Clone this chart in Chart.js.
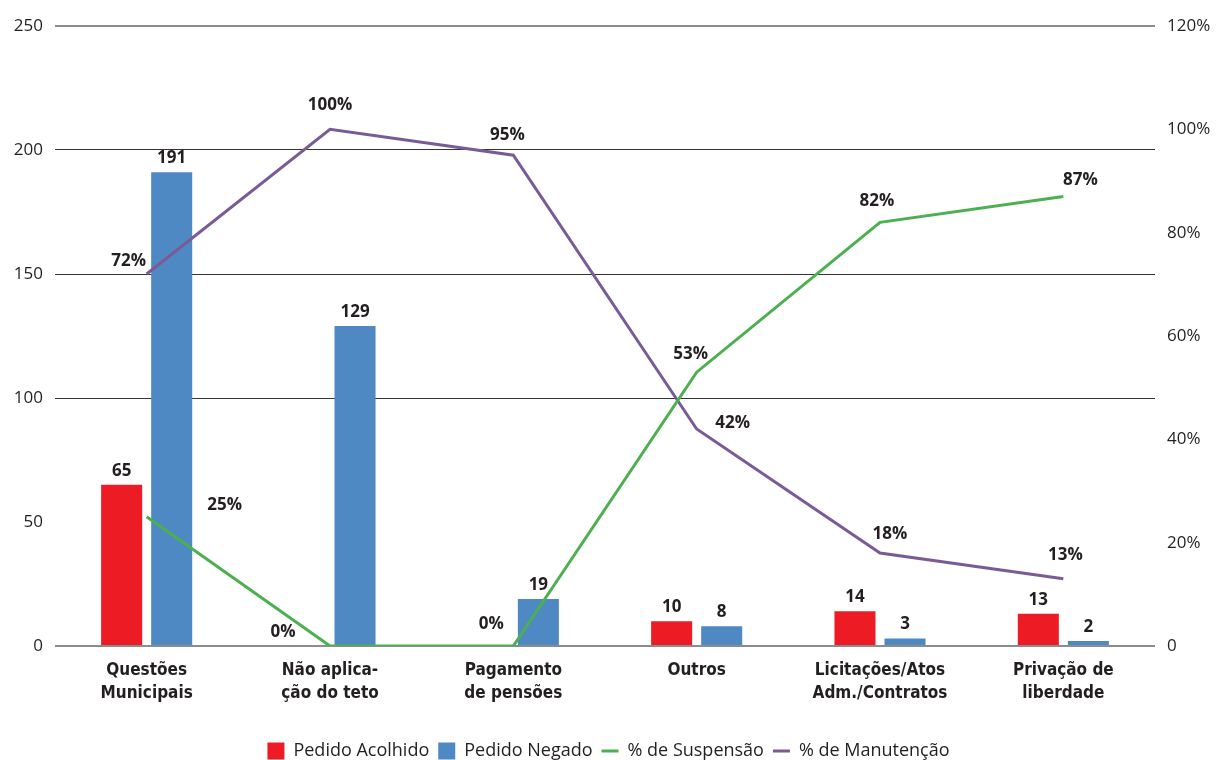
<!DOCTYPE html>
<html>
<head>
<meta charset="utf-8">
<script src="https://cdn.jsdelivr.net/npm/chart.js@4/dist/chart.umd.min.js"></script>
<style>
  html, body { margin: 0; padding: 0; background: #fff; }
  #wrap { width: 1217px; height: 760px; }
</style>
</head>
<body>
<div id="wrap"><canvas id="myChart" width="1217" height="760"></canvas></div>
<script>
// categories and values
const categories = [
    ['Questões', 'Municipais'],
    ['Não aplica-', 'ção do teto'],
    ['Pagamento', 'de pensões'],
    'Outros',
    ['Licitações/Atos', 'Adm./Contratos'],
    ['Privação de', 'liberdade']
];
const pedidoAcolhido = [65, 0, 0, 10, 14, 13];
const pedidoNegado = [191, 129, 19, 8, 3, 2];
const pctSuspensao = [25, 0, 0, 53, 82, 87];
const pctManutencao = [72, 100, 95, 42, 18, 13];
const leftTicks = [0, 50, 100, 150, 200, 250];
const rightTicks = [0, 20, 40, 60, 80, 100, 120];

// where each % label sits relative to its point (style only)
const suspensaoOffsets = [[78, -12], [-47, -14], [-22, -22], [-6, -18], [-3, -21], [17, -16]];
const manutencaoOffsets = [[-18, -13], [0, -24], [-6, -20], [36, -6], [10, -19], [2, -24]];

const labelFont = 'bold 17px "Open Sans", "Noto Sans", sans-serif';
const bodyFont = '"Open Sans", "Noto Sans", sans-serif';

const valueLabels = {
    id: 'valueLabels',
    afterDatasetsDraw(chart) {
        const ctx = chart.ctx;
        ctx.save();
        ctx.font = labelFont;
        ctx.fillStyle = '#231f20';
        ctx.textAlign = 'center';
        ctx.textBaseline = 'middle';
        chart.data.datasets.forEach((ds, i) => {
            const meta = chart.getDatasetMeta(i);
            meta.data.forEach((el, j) => {
                const v = ds.data[j];
                if (ds.type === 'line') {
                    const off = ds.labelOffsets[j];
                    ctx.fillText(v + '%', el.x + off[0], el.y + off[1]);
                } else {
                    if (v === 0) return;
                    ctx.fillText(String(v), el.x, el.y - 14);
                }
            });
        });
        ctx.restore();
    }
};

var ctx = document.getElementById('myChart').getContext('2d');
var myChart = new Chart(ctx, {
    type: 'bar',
    data: {
        labels: categories,
        datasets: [
            {
                label: 'Pedido Acolhido',
                data: pedidoAcolhido,
                backgroundColor: '#ed1c24',
                yAxisID: 'y',
                order: 2,
                pointStyle: 'rect'
            },
            {
                label: 'Pedido Negado',
                data: pedidoNegado,
                backgroundColor: '#4f89c4',
                yAxisID: 'y',
                order: 2,
                pointStyle: 'rect'
            },
            {
                type: 'line',
                label: '% de Suspensão',
                data: pctSuspensao,
                borderColor: '#4caf50',
                backgroundColor: '#4caf50',
                borderWidth: 3,
                pointRadius: 0,
                tension: 0,
                yAxisID: 'y1',
                order: 1,
                pointStyle: 'line',
                labelOffsets: suspensaoOffsets
            },
            {
                type: 'line',
                label: '% de Manutenção',
                data: pctManutencao,
                borderColor: '#7a5b96',
                backgroundColor: '#7a5b96',
                borderWidth: 3,
                pointRadius: 0,
                tension: 0,
                yAxisID: 'y1',
                order: 1,
                pointStyle: 'line',
                labelOffsets: manutencaoOffsets
            }
        ]
    },
    options: {
        responsive: false,
        animation: false,
        layout: { padding: { top: 26, left: 0, right: 0, bottom: -10 } },
        datasets: {
            bar: { categoryPercentage: 0.546, barPercentage: 0.82 }
        },
        plugins: {
            legend: {
                position: 'bottom',
                labels: {
                    usePointStyle: true,
                    pointStyleWidth: 17,
                    boxHeight: 17,
                    boxWidth: 17,
                    padding: 9,
                    color: '#231f20',
                    font: { family: bodyFont, size: 18 },
                    sort: (a, b) => a.datasetIndex - b.datasetIndex
                }
            },
            tooltip: { enabled: false }
        },
        scales: {
            x: {
                grid: { display: false, drawTicks: false },
                border: { display: false },
                ticks: {
                    color: '#231f20',
                    padding: 14,
                    maxRotation: 0,
                    autoSkip: false,
                    font: { family: '"Liberation Sans Narrow", "DejaVu Sans Condensed", "Open Sans", sans-serif', size: 17, weight: 'bold', lineHeight: 1.3 }
                },
                afterFit(scale) { scale.height = 87; }
            },
            y: {
                position: 'left',
                min: 0,
                max: 250,
                afterBuildTicks(scale) { scale.ticks = leftTicks.map(v => ({ value: v })); },
                grid: {
                    drawTicks: false,
                    color: c => {
                        const v = c.tick.value;
                        if (v === 0 || v === 250) return '#8c8c8c';
                        if (v === 50) return 'rgba(0,0,0,0)';
                        return '#333333';
                    },
                    lineWidth: c => (c.tick.value === 0 || c.tick.value === 250) ? 2 : 1
                },
                border: { display: false },
                ticks: {
                    color: '#231f20',
                    padding: 12,
                    font: { family: bodyFont, size: 17 }
                },
                afterFit(scale) { scale.width = 55; }
            },
            y1: {
                position: 'right',
                min: 0,
                max: 120,
                afterBuildTicks(scale) { scale.ticks = rightTicks.map(v => ({ value: v })); },
                grid: { display: false, drawTicks: false },
                border: { display: false },
                ticks: {
                    color: '#231f20',
                    padding: 12,
                    font: { family: bodyFont, size: 17 },
                    callback: v => v === 0 ? '0' : v + '%'
                },
                afterFit(scale) { scale.width = 62; }
            }
        }
    },
    plugins: [valueLabels]
});
</script>
</body>
</html>
